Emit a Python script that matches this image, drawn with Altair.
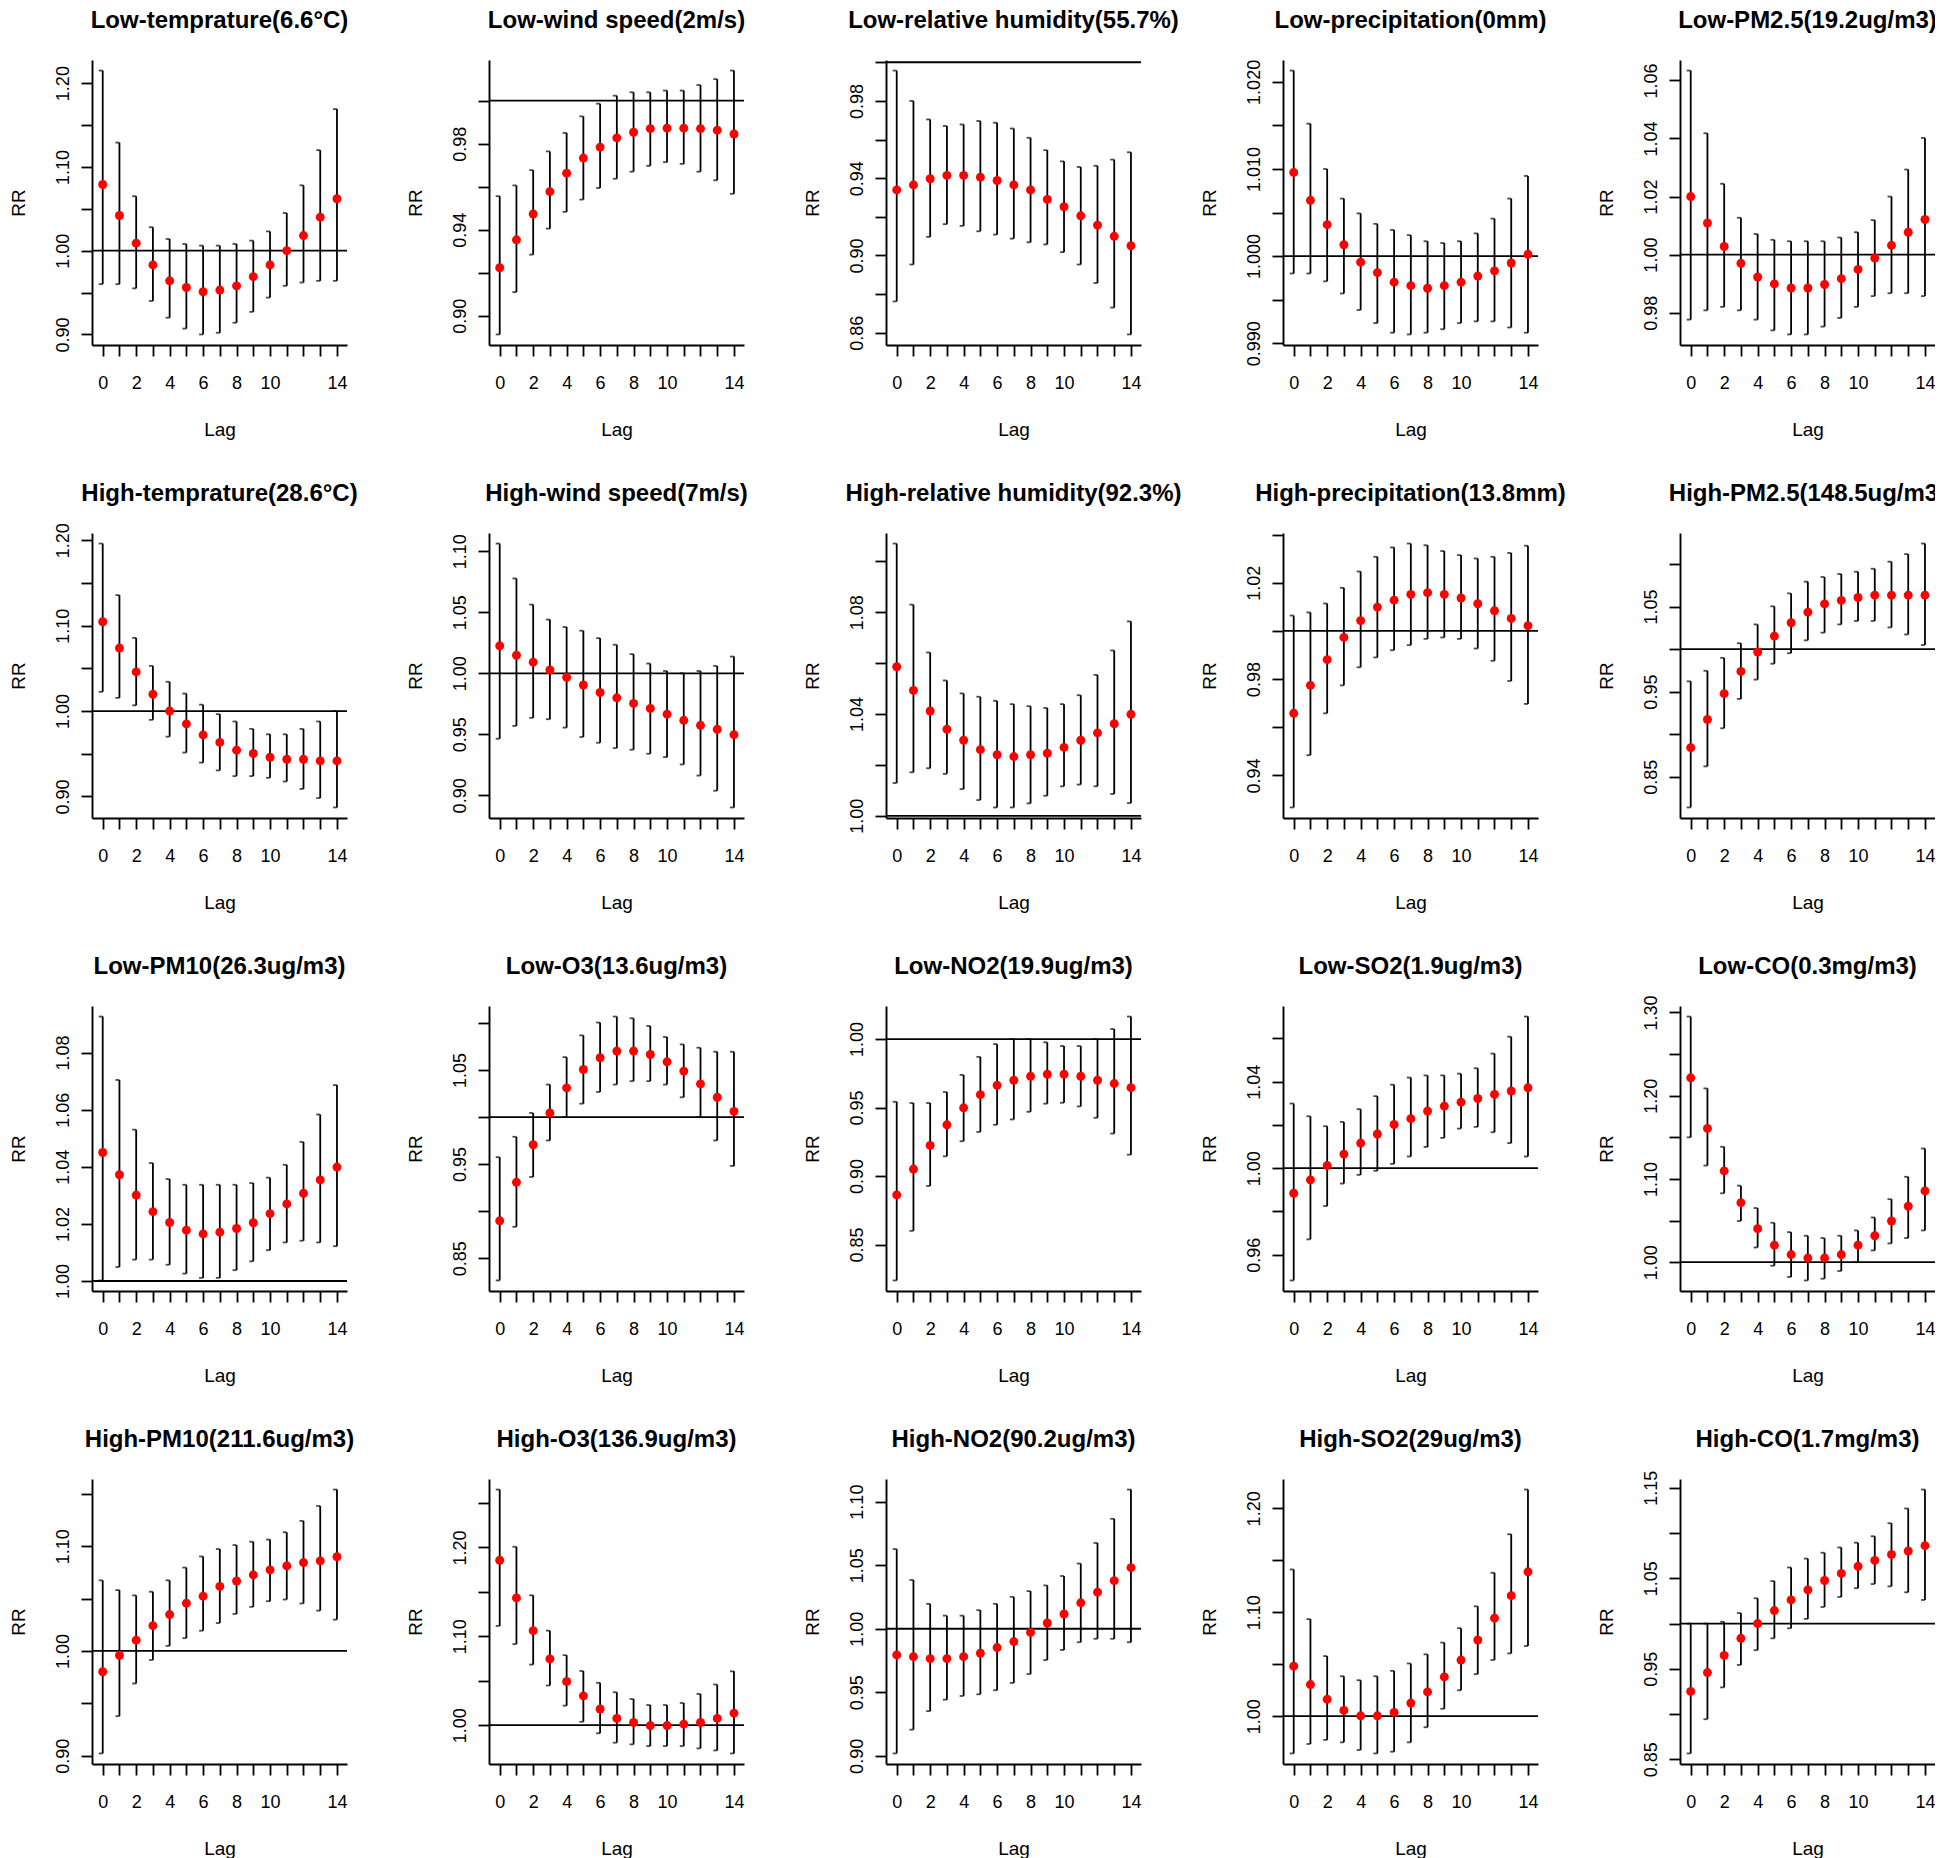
import json
import altair as alt
import pandas as pd

LAGS = list(range(15))
X_LABELLED = [0, 2, 4, 6, 8, 10, 14]

# ---------- Row 1 ----------
low_temp_title = "Low-temprature(6.6°C)"
low_temp_rr = [1.079, 1.042, 1.009, 0.983, 0.964, 0.956, 0.951, 0.953, 0.958, 0.969, 0.983, 1.000, 1.018, 1.040, 1.062]
low_temp_hi = [1.215, 1.129, 1.065, 1.028, 1.014, 1.008, 1.006, 1.006, 1.008, 1.012, 1.023, 1.045, 1.078, 1.120, 1.169]
low_temp_lo = [0.960, 0.960, 0.955, 0.940, 0.920, 0.907, 0.900, 0.902, 0.914, 0.927, 0.944, 0.958, 0.962, 0.964, 0.964]

low_wind_title = "Low-wind speed(2m/s)"
low_wind_rr = [0.9223, 0.9353, 0.9473, 0.9577, 0.9663, 0.9733, 0.9784, 0.9827, 0.9853, 0.9870, 0.9872, 0.9872, 0.9870, 0.9863, 0.9845]
low_wind_hi = [0.9556, 0.9606, 0.9677, 0.9764, 0.9850, 0.9927, 0.9986, 1.0023, 1.0039, 1.0039, 1.0047, 1.0047, 1.0073, 1.0100, 1.0140]
low_wind_lo = [0.8913, 0.9110, 0.9284, 0.9405, 0.9483, 0.9540, 0.9594, 0.9637, 0.9670, 0.9697, 0.9714, 0.9706, 0.9670, 0.9630, 0.9567]

low_rh_title = "Low-relative humidity(55.7%)"
low_rh_rr = [0.9339, 0.9365, 0.9397, 0.9414, 0.9414, 0.9405, 0.9388, 0.9365, 0.9339, 0.9290, 0.9252, 0.9205, 0.9157, 0.9099, 0.9050]
low_rh_hi = [0.9957, 0.9800, 0.9704, 0.9670, 0.9678, 0.9696, 0.9687, 0.9657, 0.9609, 0.9545, 0.9487, 0.9458, 0.9464, 0.9496, 0.9534]
low_rh_lo = [0.8762, 0.8953, 0.9096, 0.9162, 0.9153, 0.9125, 0.9108, 0.9087, 0.9068, 0.9057, 0.9017, 0.8953, 0.8857, 0.8730, 0.8591]

low_prec_title = "Low-precipitation(0mm)"
low_prec_rr = [1.0096, 1.0064, 1.0036, 1.0013, 0.9993, 0.9981, 0.9970, 0.9966, 0.9963, 0.9966, 0.9970, 0.9977, 0.9983, 0.9992, 1.0002]
low_prec_hi = [1.0213, 1.0152, 1.0100, 1.0066, 1.0049, 1.0037, 1.0030, 1.0024, 1.0017, 1.0015, 1.0017, 1.0026, 1.0043, 1.0066, 1.0092]
low_prec_lo = [0.9980, 0.9980, 0.9971, 0.9957, 0.9938, 0.9923, 0.9912, 0.9910, 0.9912, 0.9916, 0.9923, 0.9925, 0.9925, 0.9918, 0.9912]

low_pm25_title = "Low-PM2.5(19.2ug/m3)"
low_pm25_rr = [1.0200, 1.0109, 1.0028, 0.9970, 0.9923, 0.9899, 0.9885, 0.9885, 0.9897, 0.9917, 0.9949, 0.9988, 1.0032, 1.0077, 1.0121]
low_pm25_hi = [1.0634, 1.0418, 1.0244, 1.0127, 1.0071, 1.0051, 1.0046, 1.0046, 1.0046, 1.0059, 1.0077, 1.0119, 1.0200, 1.0293, 1.0402]
low_pm25_lo = [0.9776, 0.9808, 0.9820, 0.9808, 0.9776, 0.9739, 0.9725, 0.9725, 0.9752, 0.9782, 0.9820, 0.9857, 0.9867, 0.9867, 0.9857]

# ---------- Row 2 ----------
high_temp_title = "High-temprature(28.6°C)"
high_temp_rr = [1.1046, 1.0738, 1.0458, 1.0197, 1.0000, 0.9850, 0.9720, 0.9633, 0.9542, 0.9503, 0.9459, 0.9435, 0.9435, 0.9416, 0.9416]
high_temp_hi = [1.1962, 1.1358, 1.0857, 1.0529, 1.0343, 1.0205, 1.0075, 0.9964, 0.9878, 0.9791, 0.9728, 0.9728, 0.9791, 0.9878, 1.0000]
high_temp_lo = [1.0225, 1.0154, 1.0067, 0.9897, 0.9700, 0.9514, 0.9396, 0.9305, 0.9238, 0.9238, 0.9218, 0.9175, 0.9088, 0.8981, 0.8871]

high_wind_title = "High-wind speed(7m/s)"
high_wind_rr = [1.0225, 1.0148, 1.0091, 1.0027, 0.9967, 0.9904, 0.9843, 0.9799, 0.9753, 0.9712, 0.9665, 0.9615, 0.9574, 0.9541, 0.9497]
high_wind_hi = [1.1063, 1.0777, 1.0563, 1.0440, 1.0379, 1.0349, 1.0288, 1.0234, 1.0157, 1.0080, 1.0019, 1.0000, 1.0019, 1.0060, 1.0137]
high_wind_lo = [0.9464, 0.9569, 0.9635, 0.9624, 0.9555, 0.9478, 0.9431, 0.9387, 0.9374, 0.9341, 0.9313, 0.9253, 0.9162, 0.9038, 0.8901]

high_rh_title = "High-relative humidity(92.3%)"
high_rh_rr = [1.0586, 1.0493, 1.0412, 1.0340, 1.0297, 1.0260, 1.0240, 1.0233, 1.0240, 1.0246, 1.0269, 1.0297, 1.0326, 1.0362, 1.0399]
high_rh_hi = [1.1070, 1.0830, 1.0642, 1.0532, 1.0481, 1.0468, 1.0452, 1.0439, 1.0431, 1.0424, 1.0439, 1.0474, 1.0554, 1.0650, 1.0764]
high_rh_lo = [1.0129, 1.0171, 1.0187, 1.0165, 1.0105, 1.0062, 1.0033, 1.0033, 1.0049, 1.0079, 1.0116, 1.0123, 1.0116, 1.0086, 1.0050]

high_prec_title = "High-precipitation(13.8mm)"
high_prec_rr = [0.9658, 0.9774, 0.9881, 0.9973, 1.0043, 1.0099, 1.0128, 1.0152, 1.0159, 1.0152, 1.0137, 1.0113, 1.0084, 1.0052, 1.0022]
high_prec_hi = [1.0064, 1.0077, 1.0114, 1.0179, 1.0247, 1.0308, 1.0347, 1.0363, 1.0356, 1.0332, 1.0315, 1.0301, 1.0308, 1.0324, 1.0354]
high_prec_lo = [0.9267, 0.9484, 0.9658, 0.9774, 0.9849, 0.9890, 0.9920, 0.9941, 0.9967, 0.9973, 0.9967, 0.9927, 0.9876, 0.9792, 0.9697]

high_pm25_title = "High-PM2.5(148.5ug/m3)"
high_pm25_rr = [0.8841, 0.9172, 0.9476, 0.9738, 0.9966, 1.0152, 1.0310, 1.0434, 1.0531, 1.0572, 1.0607, 1.0634, 1.0634, 1.0634, 1.0634]
high_pm25_hi = [0.9621, 0.9745, 0.9897, 1.0069, 1.0290, 1.0503, 1.0655, 1.0793, 1.0848, 1.0883, 1.0910, 1.0945, 1.1028, 1.1117, 1.1241]
high_pm25_lo = [0.8138, 0.8621, 0.9069, 0.9414, 0.9641, 0.9828, 0.9952, 1.0103, 1.0193, 1.0290, 1.0331, 1.0331, 1.0255, 1.0172, 1.0048]

# ---------- Row 3 ----------
low_pm10_title = "Low-PM10(26.3ug/m3)"
low_pm10_rr = [1.0450, 1.0372, 1.0301, 1.0243, 1.0205, 1.0178, 1.0165, 1.0171, 1.0184, 1.0204, 1.0236, 1.0270, 1.0307, 1.0354, 1.0399]
low_pm10_hi = [1.0926, 1.0704, 1.0530, 1.0413, 1.0357, 1.0337, 1.0337, 1.0337, 1.0337, 1.0343, 1.0362, 1.0407, 1.0487, 1.0583, 1.0686]
low_pm10_lo = [1.0002, 1.0049, 1.0075, 1.0075, 1.0057, 1.0026, 1.0011, 1.0011, 1.0038, 1.0069, 1.0108, 1.0135, 1.0141, 1.0135, 1.0122]

low_o3_title = "Low-O3(13.6ug/m3)"
low_o3_rr = [0.8897, 0.9306, 0.9705, 1.0043, 1.0310, 1.0505, 1.0630, 1.0701, 1.0701, 1.0665, 1.0587, 1.0488, 1.0352, 1.0210, 1.0060]
low_o3_hi = [0.9573, 0.9790, 1.0043, 1.0345, 1.0637, 1.0868, 1.1004, 1.1068, 1.1050, 1.0968, 1.0851, 1.0772, 1.0737, 1.0694, 1.0694]
low_o3_lo = [0.8263, 0.8833, 0.9363, 0.9751, 1.0000, 1.0142, 1.0267, 1.0345, 1.0381, 1.0381, 1.0345, 1.0210, 1.0000, 0.9751, 0.9480]

low_no2_title = "Low-NO2(19.9ug/m3)"
low_no2_rr = [0.8862, 0.9051, 0.9224, 0.9374, 0.9498, 0.9594, 0.9662, 0.9699, 0.9728, 0.9743, 0.9743, 0.9728, 0.9699, 0.9675, 0.9645]
low_no2_hi = [0.9542, 0.9533, 0.9533, 0.9613, 0.9738, 0.9870, 0.9963, 1.0000, 1.0000, 0.9976, 0.9949, 0.9949, 1.0000, 1.0073, 1.0164]
low_no2_lo = [0.8238, 0.8600, 0.8928, 0.9144, 0.9254, 0.9322, 0.9374, 0.9413, 0.9469, 0.9528, 0.9535, 0.9508, 0.9425, 0.9310, 0.9156]

low_so2_title = "Low-SO2(1.9ug/m3)"
low_so2_rr = [0.9884, 0.9946, 1.0012, 1.0065, 1.0116, 1.0158, 1.0202, 1.0229, 1.0264, 1.0287, 1.0305, 1.0322, 1.0341, 1.0357, 1.0372]
low_so2_hi = [1.0299, 1.0240, 1.0194, 1.0214, 1.0273, 1.0333, 1.0386, 1.0419, 1.0429, 1.0429, 1.0437, 1.0462, 1.0530, 1.0608, 1.0701]
low_so2_lo = [0.9481, 0.9671, 0.9825, 0.9929, 0.9969, 0.9988, 1.0020, 1.0054, 1.0098, 1.0140, 1.0183, 1.0191, 1.0166, 1.0116, 1.0054]

low_co_title = "Low-CO(0.3mg/m3)"
low_co_rr = [1.2215, 1.1607, 1.1097, 1.0715, 1.0403, 1.0205, 1.0092, 1.0050, 1.0050, 1.0092, 1.0205, 1.0318, 1.0495, 1.0672, 1.0856]
low_co_hi = [1.2951, 1.2088, 1.1387, 1.0920, 1.0651, 1.0474, 1.0361, 1.0318, 1.0290, 1.0318, 1.0382, 1.0538, 1.0757, 1.1026, 1.1366]
low_co_lo = [1.1500, 1.1161, 1.0828, 1.0495, 1.0177, 0.9958, 0.9823, 0.9781, 0.9802, 0.9894, 1.0000, 1.0142, 1.0226, 1.0290, 1.0382]

# ---------- Row 4 ----------
high_pm10_title = "High-PM10(211.6ug/m3)"
high_pm10_rr = [0.9801, 0.9958, 1.0103, 1.0241, 1.0347, 1.0456, 1.0523, 1.0616, 1.0668, 1.0726, 1.0774, 1.0812, 1.0844, 1.0860, 1.0899]
high_pm10_hi = [1.0674, 1.0581, 1.0530, 1.0565, 1.0674, 1.0796, 1.0902, 1.0973, 1.1011, 1.1043, 1.1063, 1.1133, 1.1242, 1.1384, 1.1541]
high_pm10_lo = [0.9021, 0.9377, 0.9689, 0.9913, 1.0048, 1.0122, 1.0193, 1.0266, 1.0353, 1.0421, 1.0475, 1.0491, 1.0453, 1.0385, 1.0299]

high_o3_title = "High-O3(136.9ug/m3)"
high_o3_rr = [1.1856, 1.1432, 1.1064, 1.0746, 1.0492, 1.0330, 1.0182, 1.0076, 1.0030, 0.9996, 0.9996, 1.0011, 1.0030, 1.0076, 1.0136]
high_o3_hi = [1.2652, 1.2008, 1.1462, 1.1064, 1.0788, 1.0610, 1.0477, 1.0371, 1.0295, 1.0227, 1.0227, 1.0250, 1.0352, 1.0458, 1.0606]
high_o3_lo = [1.1117, 1.0913, 1.0682, 1.0447, 1.0220, 1.0038, 0.9909, 0.9803, 0.9784, 0.9765, 0.9765, 0.9765, 0.9739, 0.9716, 0.9682]

high_no2_title = "High-NO2(90.2ug/m3)"
high_no2_rr = [0.9794, 0.9780, 0.9765, 0.9765, 0.9780, 0.9807, 0.9852, 0.9899, 0.9971, 1.0045, 1.0116, 1.0204, 1.0288, 1.0378, 1.0481]
high_no2_hi = [1.0627, 1.0384, 1.0196, 1.0103, 1.0103, 1.0146, 1.0196, 1.0251, 1.0296, 1.0341, 1.0415, 1.0513, 1.0675, 1.0865, 1.1095]
high_no2_lo = [0.9019, 0.9206, 0.9352, 0.9442, 0.9471, 0.9484, 0.9516, 0.9574, 0.9643, 0.9754, 0.9833, 0.9894, 0.9921, 0.9921, 0.9894]

high_so2_title = "High-SO2(29ug/m3)"
high_so2_rr = [1.0481, 1.0304, 1.0162, 1.0055, 1.0003, 1.0003, 1.0036, 1.0126, 1.0233, 1.0378, 1.0540, 1.0733, 1.0943, 1.1160, 1.1389]
high_so2_hi = [1.1412, 1.0934, 1.0578, 1.0384, 1.0346, 1.0384, 1.0436, 1.0507, 1.0595, 1.0708, 1.0847, 1.1057, 1.1380, 1.1751, 1.2181]
high_so2_lo = [0.9641, 0.9732, 0.9771, 0.9748, 0.9674, 0.9641, 0.9658, 0.9748, 0.9893, 1.0071, 1.0249, 1.0404, 1.0540, 1.0604, 1.0675]

high_co_title = "High-CO(1.7mg/m3)"
high_co_rr = [0.9250, 0.9459, 0.9648, 0.9837, 1.0000, 1.0144, 1.0261, 1.0372, 1.0476, 1.0554, 1.0633, 1.0698, 1.0763, 1.0802, 1.0861]
high_co_hi = [1.0000, 1.0000, 1.0020, 1.0117, 1.0280, 1.0470, 1.0620, 1.0718, 1.0783, 1.0841, 1.0894, 1.0965, 1.1109, 1.1272, 1.1481]
high_co_lo = [0.8565, 0.8943, 0.9295, 0.9543, 0.9706, 0.9837, 0.9948, 1.0052, 1.0183, 1.0294, 1.0391, 1.0437, 1.0411, 1.0346, 1.0261]

# y-axis tick settings per panel: (start, stop, step), labelled ticks, number format
PANELS = [
    (low_temp_title, low_temp_rr, low_temp_lo, low_temp_hi, (0.90, 1.20, 0.05), [0.90, 1.00, 1.10, 1.20], ".2f"),
    (low_wind_title, low_wind_rr, low_wind_lo, low_wind_hi, (0.90, 1.00, 0.02), [0.90, 0.94, 0.98], ".2f"),
    (low_rh_title, low_rh_rr, low_rh_lo, low_rh_hi, (0.86, 1.00, 0.02), [0.86, 0.90, 0.94, 0.98], ".2f"),
    (low_prec_title, low_prec_rr, low_prec_lo, low_prec_hi, (0.990, 1.020, 0.005), [0.990, 1.000, 1.010, 1.020], ".3f"),
    (low_pm25_title, low_pm25_rr, low_pm25_lo, low_pm25_hi, (0.98, 1.06, 0.02), [0.98, 1.00, 1.02, 1.04, 1.06], ".2f"),
    (high_temp_title, high_temp_rr, high_temp_lo, high_temp_hi, (0.90, 1.20, 0.05), [0.90, 1.00, 1.10, 1.20], ".2f"),
    (high_wind_title, high_wind_rr, high_wind_lo, high_wind_hi, (0.90, 1.10, 0.05), [0.90, 0.95, 1.00, 1.05, 1.10], ".2f"),
    (high_rh_title, high_rh_rr, high_rh_lo, high_rh_hi, (1.00, 1.10, 0.02), [1.00, 1.04, 1.08], ".2f"),
    (high_prec_title, high_prec_rr, high_prec_lo, high_prec_hi, (0.94, 1.04, 0.02), [0.94, 0.98, 1.02], ".2f"),
    (high_pm25_title, high_pm25_rr, high_pm25_lo, high_pm25_hi, (0.85, 1.10, 0.05), [0.85, 0.95, 1.05], ".2f"),
    (low_pm10_title, low_pm10_rr, low_pm10_lo, low_pm10_hi, (1.00, 1.08, 0.02), [1.00, 1.02, 1.04, 1.06, 1.08], ".2f"),
    (low_o3_title, low_o3_rr, low_o3_lo, low_o3_hi, (0.85, 1.10, 0.05), [0.85, 0.95, 1.05], ".2f"),
    (low_no2_title, low_no2_rr, low_no2_lo, low_no2_hi, (0.85, 1.00, 0.05), [0.85, 0.90, 0.95, 1.00], ".2f"),
    (low_so2_title, low_so2_rr, low_so2_lo, low_so2_hi, (0.96, 1.06, 0.02), [0.96, 1.00, 1.04], ".2f"),
    (low_co_title, low_co_rr, low_co_lo, low_co_hi, (1.00, 1.30, 0.05), [1.00, 1.10, 1.20, 1.30], ".2f"),
    (high_pm10_title, high_pm10_rr, high_pm10_lo, high_pm10_hi, (0.90, 1.15, 0.05), [0.90, 1.00, 1.10], ".2f"),
    (high_o3_title, high_o3_rr, high_o3_lo, high_o3_hi, (1.00, 1.25, 0.05), [1.00, 1.10, 1.20], ".2f"),
    (high_no2_title, high_no2_rr, high_no2_lo, high_no2_hi, (0.90, 1.10, 0.05), [0.90, 0.95, 1.00, 1.05, 1.10], ".2f"),
    (high_so2_title, high_so2_rr, high_so2_lo, high_so2_hi, (1.00, 1.20, 0.05), [1.00, 1.10, 1.20], ".2f"),
    (high_co_title, high_co_rr, high_co_lo, high_co_hi, (0.85, 1.15, 0.05), [0.85, 0.95, 1.05, 1.15], ".2f"),
]

W, H = 255, 285
FONT = "Liberation Sans"


def panel(title, rr, lo, hi, tick_spec, labelled, fmt):
    df = pd.DataFrame({"lag": LAGS, "rr": rr, "lo": lo, "hi": hi})
    vmin, vmax = min(lo), max(hi)
    pad = 0.04 * (vmax - vmin)
    dom = [vmin - pad, vmax + pad]
    start, stop, step = tick_spec
    n = int(round((stop - start) / step)) + 1
    ticks = [round(start + i * step, 4) for i in range(n)]
    ticks = [t for t in ticks if dom[0] <= t <= dom[1]]
    lab = json.dumps([format(v, fmt) for v in labelled])
    y_expr = f"indexof({lab}, format(datum.value, '{fmt}')) >= 0 ? format(datum.value, '{fmt}') : ''"
    x_expr = f"indexof({json.dumps(X_LABELLED)}, datum.value) >= 0 ? datum.label : ''"

    xscale = alt.Scale(domain=[-0.64, 14.6], nice=False, zero=False)
    yscale = alt.Scale(domain=dom, nice=False, zero=False)
    xaxis = alt.Axis(values=LAGS, labelExpr=x_expr, title="Lag", labelFlush=False,
                     labelOverlap=False, labelPadding=18, titlePadding=28)
    yaxis = alt.Axis(values=ticks, labelExpr=y_expr, title="RR", labelAngle=270,
                     labelAlign="center", labelBaseline="bottom", labelFlush=False,
                     labelOverlap=False, labelPadding=9, titlePadding=26)

    def X(f):
        return alt.X(f, type="quantitative", scale=xscale, axis=xaxis)

    def Y(f):
        return alt.Y(f, type="quantitative", scale=yscale, axis=yaxis)

    base = alt.Chart(df)
    ci = base.mark_rule(color="black", strokeWidth=1.8).encode(x=X("lag"), y=Y("lo"), y2="hi:Q")
    cap_lo = base.mark_tick(color="black", orient="horizontal", size=4, thickness=1.8, xOffset=-2).encode(x=X("lag"), y=Y("lo"))
    cap_hi = base.mark_tick(color="black", orient="horizontal", size=4, thickness=1.8, xOffset=-2).encode(x=X("lag"), y=Y("hi"))
    ref = alt.Chart(pd.DataFrame({"ref": [1.0]})).mark_rule(color="black", strokeWidth=1.8, clip=True).encode(y=Y("ref"))
    pts = base.mark_circle(color="#ff0000", opacity=1, size=80).encode(x=X("lag"), y=Y("rr"))
    ttl = alt.Chart(pd.DataFrame({"t": [title]})).mark_text(
        font=FONT, fontSize=24, fontWeight="bold", color="black", align="center", baseline="alphabetic"
    ).encode(text="t:N", x=alt.value(W / 2), y=alt.value(-32))
    return alt.layer(ci, cap_lo, cap_hi, ref, pts, ttl).properties(width=W, height=H)


chart = alt.concat(
    *[panel(*p) for p in PANELS],
    columns=5,
    spacing={"row": 188, "column": 142},
    bounds="flush",
).properties(
    padding={"top": 1, "left": 0, "right": -12, "bottom": 0}
).configure_view(
    stroke=None
).configure_axis(
    grid=False,
    domainColor="black",
    domainWidth=1.9,
    tickColor="black",
    tickWidth=1.8,
    tickSize=11,
    labelFont=FONT,
    labelFontSize=18,
    labelColor="black",
    titleFont=FONT,
    titleFontSize=19,
    titleFontWeight="normal",
    titleColor="black",
)

chart.save("out.html", embed_options={"renderer": "svg", "actions": False})
